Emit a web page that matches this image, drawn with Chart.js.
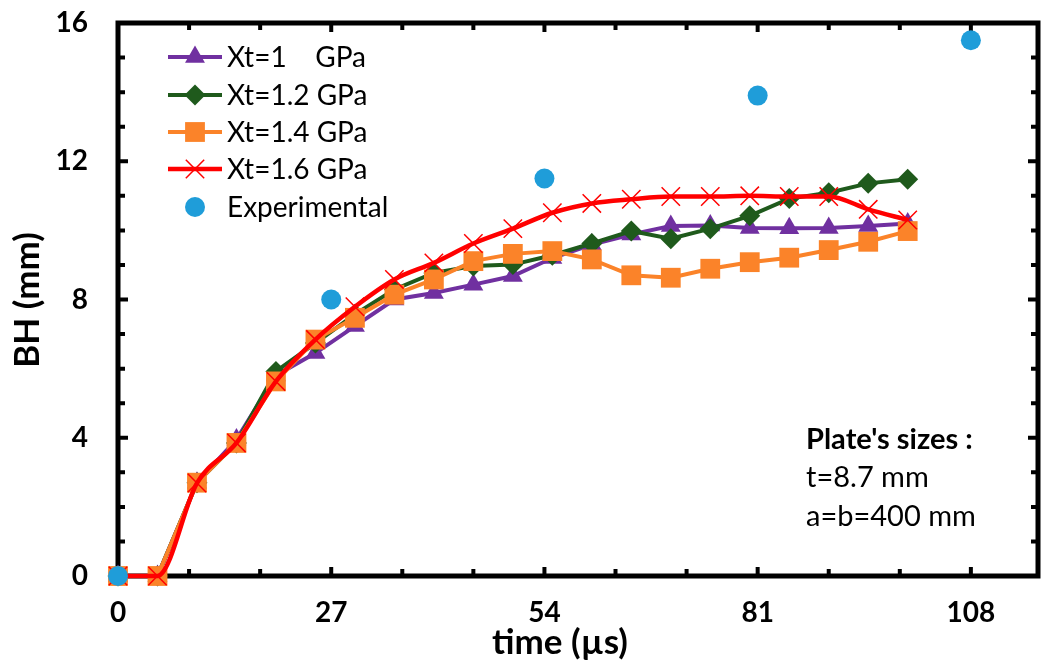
<!DOCTYPE html>
<html lang="en">
<head>
  <meta charset="UTF-8">
  <title>BH vs time</title>
  <script src="https://cdn.jsdelivr.net/npm/chart.js"></script>
  <style>
    body { margin: 0; background: #fff; }
    canvas { display: block; }
  </style>
</head>
<body>
  <canvas id="bhChart" width="1044" height="666"></canvas>

  <script>
    // time values (µs) for the simulated curves
    const timeVals = [0, 5, 10, 15, 20, 25, 30, 35, 40, 45, 50, 55, 60, 65, 70, 75, 80, 85, 90, 95, 100];

    // BH (mm) for each tensile strength
    const xt10 = [0, 0, 2.7, 3.95, 5.8, 6.45, 7.23, 8.0, 8.19, 8.43, 8.68, 9.2, 9.59, 9.88, 10.13, 10.14, 10.07, 10.06, 10.07, 10.13, 10.2];
    const xt12 = [0, 0, 2.7, 3.85, 5.92, 6.74, 7.57, 8.29, 8.77, 8.97, 9.01, 9.28, 9.62, 9.98, 9.76, 10.05, 10.42, 10.92, 11.09, 11.36, 11.48];
    const xt14 = [0, 0, 2.7, 3.85, 5.63, 6.84, 7.47, 8.14, 8.58, 9.11, 9.32, 9.4, 9.16, 8.7, 8.63, 8.89, 9.08, 9.21, 9.43, 9.67, 9.98];
    const xt16 = [0, 0, 2.69, 3.85, 5.63, 6.84, 7.79, 8.58, 9.06, 9.62, 10.05, 10.51, 10.78, 10.9, 10.98, 10.98, 11.0, 10.98, 10.98, 10.61, 10.3];

    // experimental points
    const expTime = [0, 27, 54, 81, 108];
    const expBH = [0, 8.0, 11.5, 13.9, 15.5];

    // axis ticks
    const xTicks = [0, 9, 18, 27, 36, 45, 54, 63, 72, 81, 90, 99, 108];
    const xLabelStep = 27;
    const yTicks = [0, 1, 2, 3, 4, 5, 6, 7, 8, 9, 10, 11, 12, 13, 14, 15, 16];
    const yLabelStep = 4;

    const legendNames = ['Xt=1    GPa', 'Xt=1.2 GPa', 'Xt=1.4 GPa', 'Xt=1.6 GPa', 'Experimental'];
    const noteLines = ["Plate's sizes :", 't=8.7 mm', 'a=b=400 mm'];

    const toXY = (xs, ys) => xs.map((x, i) => ({ x: x, y: ys[i] }));

    // small marker painter used by the legend
    function marker(c, style, x, y, r, color) {
      c.save();
      c.fillStyle = color;
      c.strokeStyle = color;
      c.beginPath();
      if (style === 'triangle') {
        c.moveTo(x, y - r);
        c.lineTo(x + r * Math.sin(2 * Math.PI / 3), y + r / 2);
        c.lineTo(x - r * Math.sin(2 * Math.PI / 3), y + r / 2);
        c.closePath();
        c.fill();
      } else if (style === 'rectRot') {
        c.moveTo(x, y - r); c.lineTo(x + r, y); c.lineTo(x, y + r); c.lineTo(x - r, y);
        c.closePath();
        c.fill();
      } else if (style === 'rect') {
        const s = r * Math.SQRT1_2;
        c.rect(x - s, y - s, 2 * s, 2 * s);
        c.fill();
      } else if (style === 'crossRot') {
        const s = r * Math.SQRT1_2;
        c.lineWidth = 1.5;
        c.moveTo(x - s, y - s); c.lineTo(x + s, y + s);
        c.moveTo(x + s, y - s); c.lineTo(x - s, y + s);
        c.stroke();
      } else {
        c.arc(x, y, r, 0, Math.PI * 2);
        c.fill();
      }
      c.restore();
    }

    // frame with inward ticks on all four sides, drawn under the data
    const framePlugin = {
      id: 'frame',
      beforeDatasetsDraw(chart) {
        const c = chart.ctx;
        const a = chart.chartArea;
        const xs = chart.scales.x, ys = chart.scales.y;
        c.save();
        c.strokeStyle = '#000';
        c.lineWidth = 4;
        xTicks.forEach(v => {
          if (v === 0) return;
          const px = xs.getPixelForValue(v);
          const len = v % xLabelStep === 0 ? 9 : 7;
          c.beginPath();
          c.moveTo(px, a.bottom); c.lineTo(px, a.bottom - len);
          c.moveTo(px, a.top); c.lineTo(px, a.top + len);
          c.stroke();
        });
        yTicks.forEach(v => {
          if (v === 0 || v === 16) return;
          const py = ys.getPixelForValue(v);
          const len = v % yLabelStep === 0 ? 10 : 7;
          c.beginPath();
          c.moveTo(a.left, py); c.lineTo(a.left + len, py);
          c.moveTo(a.right, py); c.lineTo(a.right - len, py);
          c.stroke();
        });
        c.lineWidth = 5;
        c.strokeRect(a.left, a.top, a.right - a.left, a.bottom - a.top);
        c.restore();
      },
      afterDraw(chart) {
        const c = chart.ctx;
        c.save();
        c.fillStyle = '#000';

        // axis titles
        c.font = 'bold 35px Lato';
        c.textAlign = 'center';
        c.textBaseline = 'middle';
        c.fillText('time (µs)', 560, 643);
        c.translate(28, 300);
        c.rotate(-Math.PI / 2);
        c.fillText('BH (mm)', 0, 0);
        c.setTransform(1, 0, 0, 1, 0, 0);

        // legend: line segment with marker, then name
        const rowY = [57, 95, 132, 169, 207];
        chart.data.datasets.forEach((ds, i) => {
          const y = rowY[i];
          if (ds.showLine !== false) {
            c.strokeStyle = ds.borderColor;
            c.lineWidth = ds.borderWidth;
            c.beginPath();
            c.moveTo(168, y); c.lineTo(222, y);
            c.stroke();
          }
          marker(c, ds.pointStyle, 195, y, ds.pointRadius, ds.pointBackgroundColor || ds.borderColor);
          c.fillStyle = '#000';
          c.font = '28px Lato';
          c.textAlign = 'left';
          c.textBaseline = 'middle';
          c.fillText(legendNames[i], 227, y + 1);
        });

        // plate note
        c.textAlign = 'left';
        c.textBaseline = 'middle';
        c.font = 'bold 29px Lato';
        c.fillText(noteLines[0], 806, 440);
        c.font = '29px Lato';
        c.fillText(noteLines[1], 806, 478);
        c.fillText(noteLines[2], 806, 517);
        c.restore();
      }
    };

    function noPad(s) {
      s.paddingTop = 0;
      s.paddingBottom = 0;
      s.paddingLeft = 0;
      s.paddingRight = 0;
    }

    function draw() {
      const ctx = document.getElementById('bhChart').getContext('2d');
      new Chart(ctx, {
        type: 'line',
        data: {
          datasets: [
            {
              label: legendNames[0], data: toXY(timeVals, xt10),
              borderColor: '#7030A0', backgroundColor: '#7030A0', pointBackgroundColor: '#7030A0',
              borderWidth: 4, pointStyle: 'triangle', pointRadius: 11.5, pointBorderWidth: 0,
              tension: 0, order: 5
            },
            {
              label: legendNames[1], data: toXY(timeVals, xt12),
              borderColor: '#1F5A1C', backgroundColor: '#1F5A1C', pointBackgroundColor: '#1F5A1C',
              borderWidth: 4, pointStyle: 'rectRot', pointRadius: 10.5, pointBorderWidth: 0,
              tension: 0, order: 4
            },
            {
              label: legendNames[2], data: toXY(timeVals, xt14),
              borderColor: '#FB8329', backgroundColor: '#FB8329', pointBackgroundColor: '#FB8329',
              borderWidth: 4, pointStyle: 'rect', pointRadius: 14, pointBorderWidth: 0,
              tension: 0, order: 3
            },
            {
              label: legendNames[3], data: toXY(timeVals, xt16),
              borderColor: '#FF0000', backgroundColor: '#FF0000', pointBorderColor: '#FF0000',
              borderWidth: 4.5, pointStyle: 'crossRot', pointRadius: 13, pointBorderWidth: 1.5,
              cubicInterpolationMode: 'monotone', order: 2
            },
            {
              label: legendNames[4], data: toXY(expTime, expBH),
              borderColor: '#1F9DD9', backgroundColor: '#1F9DD9', pointBackgroundColor: '#1F9DD9',
              showLine: false, pointStyle: 'circle', pointRadius: 10, pointBorderWidth: 0,
              order: 1
            }
          ]
        },
        options: {
          responsive: false,
          devicePixelRatio: 1,
          animation: false,
          clip: false,
          layout: { autoPadding: false, padding: { top: 23, right: 6, left: 0, bottom: 0 } },
          plugins: {
            legend: { display: false },
            tooltip: { enabled: false }
          },
          scales: {
            x: {
              type: 'linear',
              min: 0,
              max: 116.5,
              afterBuildTicks: s => { s.ticks = xTicks.map(v => ({ value: v })); },
              afterFit: s => { s.height = 90; noPad(s); },
              grid: { display: false, drawTicks: false },
              border: { display: false },
              ticks: {
                autoSkip: false,
                maxRotation: 0,
                padding: 20,
                color: '#000',
                font: { family: 'Lato', size: 28, weight: 'bold' },
                callback: v => (v % xLabelStep === 0 ? v : '')
              }
            },
            y: {
              min: 0,
              max: 16,
              afterBuildTicks: s => { s.ticks = yTicks.map(v => ({ value: v })); },
              afterFit: s => { s.width = 118; noPad(s); },
              grid: { display: false, drawTicks: false },
              border: { display: false },
              ticks: {
                autoSkip: false,
                padding: 30,
                color: '#000',
                font: { family: 'Lato', size: 28, weight: 'bold' },
                callback: v => (v % yLabelStep === 0 ? v : '')
              }
            }
          }
        },
        plugins: [framePlugin]
      });
    }

    Promise.all([
      document.fonts.load('bold 28px Lato'),
      document.fonts.load('28px Lato')
    ]).then(draw, draw);
  </script>
</body>
</html>
